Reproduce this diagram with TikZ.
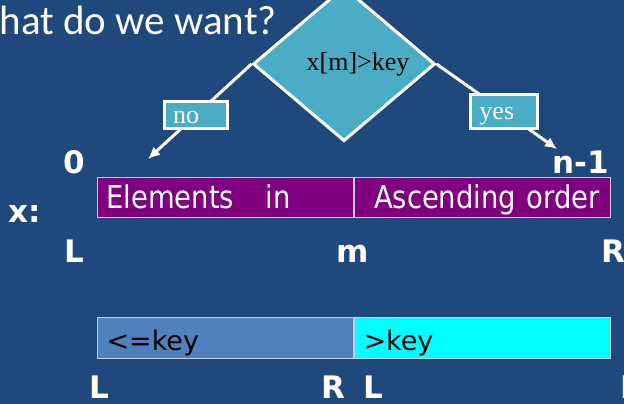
\documentclass[tikz,border=0pt]{standalone}
\usepackage{fontspec}
\usetikzlibrary{shapes.geometric,arrows.meta}
\newfontfamily\titlefont{Carlito}
\newfontfamily\cellfont[FakeStretch=0.87]{DejaVu Sans}
\newfontfamily\markfont{DejaVu Sans}
\newfontfamily\testfont{Liberation Serif}
\definecolor{slide}{RGB}{31,73,125}
\definecolor{aqua}{RGB}{75,172,198}
\definecolor{plum}{RGB}{128,0,128}
\definecolor{lowpart}{RGB}{79,129,189}
\definecolor{highpart}{RGB}{0,255,255}
\definecolor{edge}{RGB}{200,205,225}
\begin{document}
\begin{tikzpicture}[x=1pt,y=-1pt,
  idx/.style={white,font=\markfont\bfseries\fontsize{31}{31}\selectfont,anchor=base,inner sep=0pt},
  cell/.style={draw=edge,line width=1pt,anchor=north west,text width=238pt,align=left,inner xsep=9pt,inner ysep=0pt},
  tag/.style={draw=white,line width=3pt,fill=aqua,font=\testfont\fontsize{26}{26}\selectfont,align=left,inner xsep=9pt,inner ysep=0pt},
  arr/.style={white,line width=3pt,-{Latex[length=12pt,width=11pt]}}]
\useasboundingbox (0,0) rectangle (624,404);
\clip (0,0) rectangle (624,404);
\fill[slide] (0,0) rectangle (624,404);
\node[white,anchor=base east,inner sep=0pt,font=\titlefont\fontsize{41}{41}\selectfont] (title) at (277,35) {hat do we want?};
% the test
\node[diamond,draw=white,line width=3pt,fill=aqua,inner sep=0pt,minimum width=182pt,minimum height=116pt,
  font=\testfont\fontsize{26}{26}\selectfont] (q) at (344,64) {\hspace*{28pt}x[m]>key};
\coordinate (lt) at (148,159);
\coordinate (rt) at (557,149);
\draw[arr] (q.west) -- node[tag,pos=0.54,text width=45pt,text height=22pt,text depth=5pt] (no) {no} (lt);
\draw[arr] (q.east) -- node[tag,pos=0.56,text width=49pt,text height=25pt,text depth=9pt] (yes) {yes} (rt);
% the array
\node[cell,fill=plum,minimum height=40pt,text height=23pt,text depth=1pt,
  text=white,font=\cellfont\fontsize{31.5}{31.5}\selectfont] (el) at (97,177) {Elements\ \ \ in};
\node[cell,fill=plum,minimum height=40pt,text height=23pt,text depth=1pt,
  text=white,font=\cellfont\fontsize{31.5}{31.5}\selectfont] (asc) at (el.north east) {\ Ascending order};
\node[idx] (zero) at (74,173) {0};
\node[idx] (last) at (581,173) {n-1};
\node[idx] (x) at (25,222) {x:};
\node[idx] (l1) at (74,262) {L};
\node[idx] (m1) at (353,262) {m};
\node[idx] (r1) at (613,262) {R};
% after the test
\node[cell,fill=lowpart,minimum height=41pt,text height=25pt,text depth=0pt,
  font=\markfont\fontsize{27}{27}\selectfont] (le) at (97,317) {<=key};
\node[cell,fill=highpart,minimum height=41pt,text height=25pt,text depth=0pt,
  font=\markfont\fontsize{27}{27}\selectfont] (gt) at (le.north east) {>key};
\node[idx] (l2) at (99,398) {L};
\node[idx] (r2) at (333,398) {R};
\node[idx] (l3) at (373,398) {L};
\node[idx] (r3) at (632,398) {R};
\end{tikzpicture}
\end{document}
